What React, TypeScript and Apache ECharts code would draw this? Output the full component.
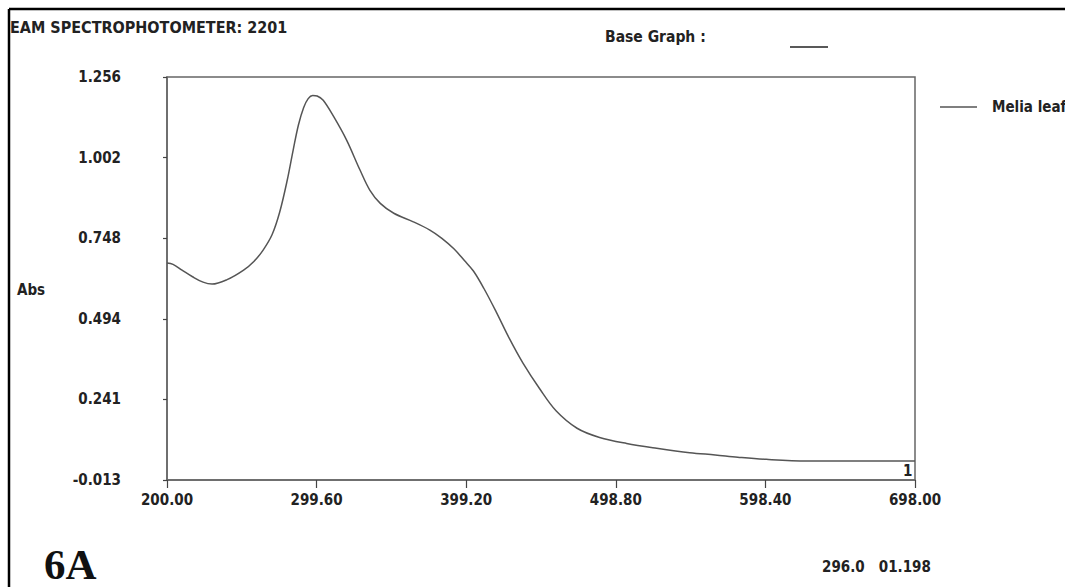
import React, { useEffect, useRef } from "react";
import * as echarts from "echarts";

const wavelength = [200, 204, 210, 217, 224, 230, 240, 251, 258, 264, 270, 275, 280, 284, 287.5, 291, 294, 297, 300, 304, 311, 319.5, 328.5, 335, 342, 351, 364, 375, 383, 391, 398, 404, 411, 419, 428, 437, 448, 459, 473, 488, 506, 526, 548, 565, 580, 599, 626, 660, 698];
const absorbance = [0.670, 0.666, 0.648, 0.627, 0.610, 0.604, 0.618, 0.648, 0.676, 0.711, 0.760, 0.830, 0.930, 1.026, 1.105, 1.160, 1.188, 1.198, 1.196, 1.183, 1.131, 1.058, 0.963, 0.900, 0.858, 0.827, 0.800, 0.774, 0.748, 0.715, 0.678, 0.645, 0.590, 0.518, 0.432, 0.355, 0.275, 0.205, 0.150, 0.121, 0.102, 0.087, 0.073, 0.066, 0.059, 0.052, 0.047, 0.047, 0.047];
const xTicks = [200.0, 299.6, 399.2, 498.8, 598.4, 698.0];
const yTicks = [-0.013, 0.241, 0.494, 0.748, 1.002, 1.256];
const seriesName = "Melia leaf";
const titleText = "EAM SPECTROPHOTOMETER: 2201";
const baseGraphText = "Base Graph :";
const panelLabel = "6A";
const peakReadout = "296.0   01.198";

const FONT = "'DejaVu Sans Condensed', 'Liberation Sans Narrow', sans-serif";
const TXT = "#222";

export default function App() {
  const ref = useRef<HTMLDivElement>(null);
  useEffect(() => {
    if (!ref.current) return;
    const chart = echarts.init(ref.current, undefined, { renderer: "svg" });
    const data = wavelength.map((w, i) => [w, absorbance[i]]);
    chart.setOption({
      animation: false,
      backgroundColor: "#fff",
      grid: {
        left: 167,
        top: 77,
        right: 150,
        bottom: 107,
        show: true,
        borderColor: "#666",
        borderWidth: 1.5,
      },
      xAxis: {
        type: "value",
        min: 200,
        max: 698,
        splitLine: { show: false },
        axisLine: { onZero: false, lineStyle: { color: "#666", width: 1.5 } },
        axisTick: {
          show: true,
          length: 8,
          customValues: xTicks,
          lineStyle: { color: "#444", width: 1.2 },
        },
        axisLabel: {
          customValues: xTicks,
          formatter: (v: number) => v.toFixed(2),
          fontFamily: FONT,
          fontWeight: "bold",
          fontSize: 15,
          color: TXT,
          margin: 12,
        },
      },
      yAxis: {
        type: "value",
        min: -0.013,
        max: 1.256,
        splitLine: { show: false },
        axisLine: { show: true, onZero: false, lineStyle: { color: "#666", width: 1.5 } },
        axisTick: {
          show: true,
          length: 4,
          customValues: yTicks,
          lineStyle: { color: "#444", width: 1.2 },
        },
        axisLabel: {
          customValues: yTicks,
          formatter: (v: number) => v.toFixed(3),
          fontFamily: FONT,
          fontWeight: "bold",
          fontSize: 15,
          color: TXT,
          margin: 46,
        },
      },
      series: [
        {
          name: seriesName,
          type: "line",
          data,
          smooth: 0.35,
          symbol: "none",
          lineStyle: { color: "#555", width: 1.5 },
          itemStyle: { color: "#555" },
        },
      ],
      graphic: [
        { type: "line", shape: { x1: 9, y1: 9, x2: 1065, y2: 9 }, style: { stroke: "#000", lineWidth: 2.5 } },
        { type: "line", shape: { x1: 9, y1: 9, x2: 9, y2: 587 }, style: { stroke: "#000", lineWidth: 2.5 } },
        {
          type: "text",
          left: 10,
          top: 19,
          z: -1,
          style: { text: titleText, fontFamily: FONT, fontWeight: "bold", fontSize: 16, fill: TXT },
        },
        {
          type: "text",
          left: 605,
          top: 29,
          style: { text: baseGraphText, fontFamily: FONT, fontWeight: "bold", fontSize: 15.5, fill: TXT },
        },
        { type: "line", shape: { x1: 790, y1: 47, x2: 828, y2: 47 }, style: { stroke: "#222", lineWidth: 1.5 } },
        { type: "line", shape: { x1: 940, y1: 107, x2: 977, y2: 107 }, style: { stroke: "#555", lineWidth: 1.5 } },
        {
          type: "text",
          left: 992,
          top: 99,
          style: { text: seriesName, fontFamily: FONT, fontWeight: "bold", fontSize: 15, fill: TXT },
        },
        {
          type: "text",
          left: 17,
          top: 282,
          style: { text: "Abs", fontFamily: FONT, fontWeight: "bold", fontSize: 15, fill: TXT },
        },
        {
          type: "text",
          left: 903,
          top: 463,
          style: { text: "1", fontFamily: FONT, fontWeight: "bold", fontSize: 15, fill: TXT },
        },
        {
          type: "text",
          left: 44,
          top: 543,
          style: { text: panelLabel, fontFamily: "'Liberation Serif', serif", fontWeight: "bold", fontSize: 43, fill: "#111" },
        },
        {
          type: "text",
          left: 822,
          top: 559,
          style: { text: peakReadout, fontFamily: FONT, fontWeight: "bold", fontSize: 15, fill: TXT },
        },
      ],
    });
    return () => chart.dispose();
  }, []);
  return <div ref={ref} style={{ position: "fixed", left: 0, top: 0, width: 1065, height: 587 }} />;
}
